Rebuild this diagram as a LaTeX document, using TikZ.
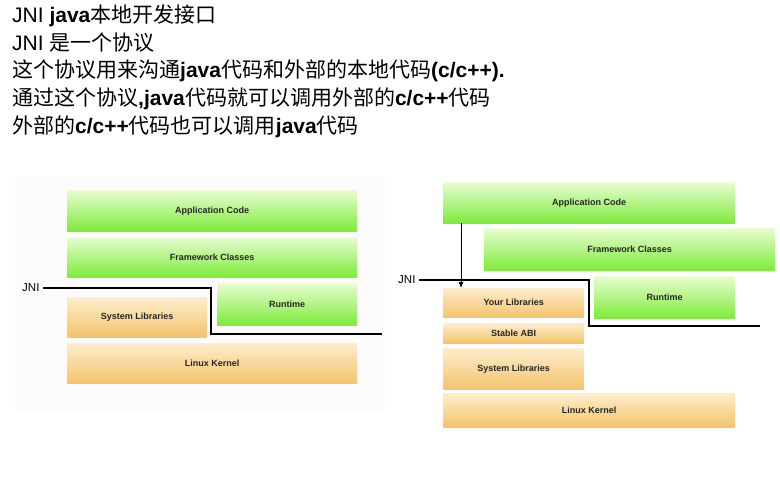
\documentclass[tikz,border=0pt]{standalone}
\usepackage{fontspec}
\setmainfont{Liberation Sans}
\newfontfamily\cjk{Noto Sans CJK SC}
\usetikzlibrary{arrows.meta}
\usetikzlibrary{calc}
\tikzset{>=latex}
\definecolor{greentop}{HTML}{E8FDD2}
\definecolor{greenbot}{HTML}{7DEB3A}
\definecolor{orangetop}{HTML}{FDEDCD}
\definecolor{orangebot}{HTML}{F4C46A}
\colorlet{labelcol}{black!85}
\tikzstyle{layer}=[rectangle,inner sep=0pt,anchor=north west,text=labelcol,font=\bfseries\fontsize{9}{10}\selectfont]
\tikzstyle{javalayer}=[layer,top color=greentop,bottom color=greenbot]
\tikzstyle{nativelayer}=[layer,top color=orangetop,bottom color=orangebot]
\tikzstyle{textline}=[anchor=base west,inner sep=0pt,font=\fontsize{21}{25}\selectfont]
\tikzstyle{jnilabel}=[anchor=east,font=\fontsize{11.5}{13}\selectfont]
\tikzstyle{jniline}=[line width=2.6pt]

\begin{document}
\begin{tikzpicture}[x=1pt,y=-1pt]
  \fill[white] (0,0) rectangle (780,479);
  \useasboundingbox (0,0) rectangle (780,479);

  % header text
  \node[textline] (line1) at (12,22) {JNI \textbf{java}{\cjk 本地开发接口}};
  \node[textline] (line2) at (12,50) {JNI {\cjk 是一个协议}};
  \node[textline] (line3) at (12,77) {{\cjk 这个协议用来沟通}\textbf{java}{\cjk 代码和外部的本地代码}\textbf{(c/c++).}};
  \node[textline] (line4) at (12,105) {{\cjk 通过这个协议}\textbf{,java}{\cjk 代码就可以调用外部的}\textbf{c/c++}{\cjk 代码}};
  \node[textline] (line5) at (12,133) {{\cjk 外部的}\textbf{c/c++}{\cjk 代码也可以调用}\textbf{java}{\cjk 代码}};

  % left stack
  \fill[black!1] (15,176) rectangle (385,410);
  \node[javalayer,minimum width=290pt,minimum height=41pt] (appL) at (67,190) {Application Code};
  \node[javalayer,minimum width=290pt,minimum height=40pt] (fwL) at (67,237) {Framework Classes};
  \node[javalayer,minimum width=140pt,minimum height=42pt] (rtL) at (217,283) {Runtime};
  \node[nativelayer,minimum width=140pt,minimum height=40pt] (sysL) at (67,297) {System Libraries};
  \node[nativelayer,minimum width=290pt,minimum height=40pt] (kernelL) at (67,343) {Linux Kernel};

  % JNI boundary, left
  \node[jnilabel] (jniL) at (43,288) {JNI};
  \coordinate (stepL) at (211,334);
  \coordinate (endL) at (382,334);
  \draw[jniline] (jniL.east) -| (stepL) -- (endL);

  % right stack
  \node[javalayer,minimum width=292pt,minimum height=41pt] (appR) at (443,182) {Application Code};
  \node[javalayer,minimum width=291pt,minimum height=42pt] (fwR) at (484,228) {Framework Classes};
  \node[javalayer,minimum width=141pt,minimum height=42pt] (rtR) at (594,276) {Runtime};
  \node[nativelayer,minimum width=141pt,minimum height=29pt] (yourR) at (443,288) {Your Libraries};
  \node[nativelayer,minimum width=141pt,minimum height=20pt] (abiR) at (443,323) {Stable ABI};
  \node[nativelayer,minimum width=141pt,minimum height=41pt] (sysR) at (443,348) {System Libraries};
  \node[nativelayer,minimum width=292pt,minimum height=34pt] (kernelR) at (443,393) {Linux Kernel};

  % JNI boundary, right
  \node[jnilabel] (jniR) at (419,280) {JNI};
  \coordinate (stepR) at (589,326);
  \coordinate (endR) at (760,326);
  \draw[jniline] (jniR.east) -| (stepR) -- (endR);

  % call from application code down to own libraries
  \draw[-{Latex[length=6pt,width=5pt]},line width=0.8pt] ([xshift=18pt]appR.south west) -- ([xshift=18pt]yourR.north west);
\end{tikzpicture}
\end{document}
